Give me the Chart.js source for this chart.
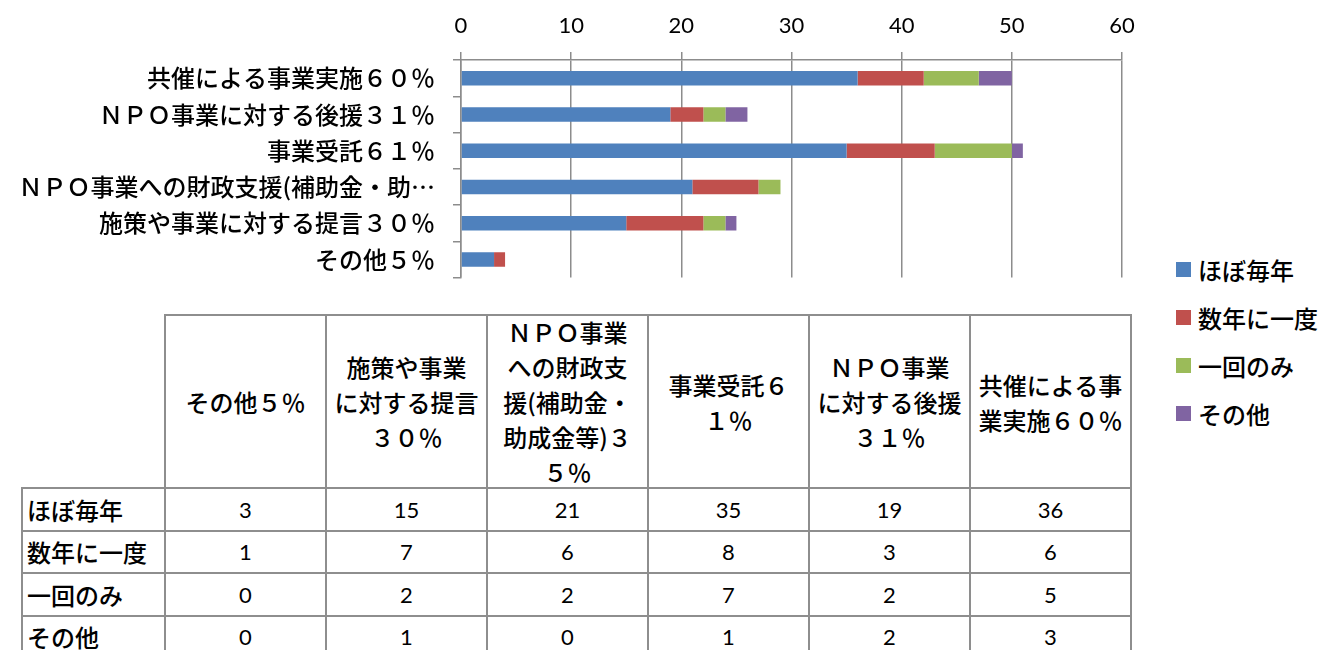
<!doctype html>
<html lang="ja">
<head>
<meta charset="utf-8">
<title>NPOとの協働の状況</title>
<script src="https://cdn.jsdelivr.net/npm/chart.js"></script>
<style>
  body { margin: 0; width: 1329px; height: 650px; overflow: hidden; background: #fff; position: relative;
         font-family: "Noto Sans CJK JP", sans-serif; font-weight: 500; color: #000; }
  #wrap { position: absolute; left: 0; top: 0; width: 1150px; height: 310px; }
  .lg { position: absolute; white-space: nowrap; font-size: 24px; line-height: 30px; }
  .lg i { position: absolute; left: 0; top: 7px; width: 15px; height: 15px; }
  .lg span { position: absolute; left: 22px; top: 0; }
  .cell { position: absolute; box-sizing: border-box; border: 2px solid #8e8e8e; display: flex;
          align-items: center; justify-content: center; text-align: center; white-space: nowrap; }
  .head { font-size: 24px; line-height: 35px; }
  .rowlab { font-size: 24px; justify-content: flex-start; padding-left: 4px; }
  .num { font-family: Lato, "Liberation Sans", sans-serif; font-weight: 400; font-size: 22px; }
</style>
</head>
<body>
<div id="wrap"><canvas id="chart"></canvas></div>
<div id="legend"></div>
<div id="table"></div>
<script>
  // categories in data-table order (chart shows them bottom-up)
  const categories = ['その他５％', '施策や事業に対する提言３０％', 'ＮＰＯ事業への財政支援(補助金・助成金等)３５％',
                      '事業受託６１％', 'ＮＰＯ事業に対する後援３１％', '共催による事業実施６０％'];
  const seriesNames = ['ほぼ毎年', '数年に一度', '一回のみ', 'その他'];
  const everyYear     = [3, 15, 21, 35, 19, 36];
  const everyFewYears = [1, 7, 6, 8, 3, 6];
  const onceOnly      = [0, 2, 2, 7, 2, 5];
  const otherFreq     = [0, 1, 0, 1, 2, 3];
  const colors = ['#4F81BD', '#C0504D', '#9BBB59', '#8064A2'];
  // how the table header wraps each category name
  const headerLines = [
    ['その他５％'],
    ['施策や事業', 'に対する提言', '３０％'],
    ['ＮＰＯ事業', 'への財政支', '援(補助金・', '助成金等)３', '５％'],
    ['事業受託６', '１％'],
    ['ＮＰＯ事業', 'に対する後援', '３１％'],
    ['共催による事', '業実施６０％']
  ];

  const series = [everyYear, everyFewYears, onceOnly, otherFreq];
  const gridColor = '#8c8c8c';

  new Chart(document.getElementById('chart'), {
    type: 'bar',
    data: {
      labels: categories,
      datasets: series.map((d, i) => ({
        label: seriesNames[i],
        data: d,
        backgroundColor: colors[i],
        barPercentage: 0.4,
        categoryPercentage: 1
      }))
    },
    options: {
      indexAxis: 'y',
      responsive: true,
      maintainAspectRatio: false,
      animation: false,
      layout: { padding: { left: 0, right: 28, top: 0, bottom: 12 } },
      plugins: { legend: { display: false }, tooltip: { enabled: false } },
      scales: {
        x: {
          position: 'top', stacked: true, min: 0, max: 60,
          ticks: { stepSize: 10, color: '#000', padding: 13, font: { family: 'Lato', size: 22 } },
          grid: { color: gridColor, lineWidth: 1.5, tickLength: 8 },
          border: { color: gridColor, width: 1.5 },
          afterFit(s) { s.height = 60; }
        },
        y: {
          stacked: true, reverse: true,
          ticks: {
            color: '#000', padding: 18, autoSkip: false,
            font: { family: '"Noto Sans CJK JP"', size: 24, weight: 500 },
            callback(v) {
              const l = this.getLabelForValue(v);
              return l.length > 17 ? l.slice(0, 17) + '…' : l;
            }
          },
          grid: { drawOnChartArea: false, color: gridColor, lineWidth: 1.5, tickLength: 8 },
          border: { color: gridColor, width: 1.5 },
          afterFit(s) { s.width = 461; }
        }
      }
    }
  });

  // legend
  const legend = document.getElementById('legend');
  seriesNames.forEach((name, i) => {
    const el = document.createElement('div');
    el.className = 'lg';
    el.style.left = '1176px';
    el.style.top = (255 + i * 48) + 'px';
    el.innerHTML = '<i style="background:' + colors[i] + '"></i><span>' + name + '</span>';
    legend.appendChild(el);
  });

  // data table
  const colX = [22, 165, 326, 487, 648, 809, 970, 1131];
  const rowY = [315, 488, 530.5, 573, 615.5, 658];
  const table = document.getElementById('table');
  function cell(x0, x1, y0, y1, cls, html) {
    const el = document.createElement('div');
    el.className = 'cell ' + cls;
    el.style.left = (x0 - 1) + 'px';
    el.style.top = (y0 - 1) + 'px';
    el.style.width = (x1 - x0 + 2) + 'px';
    el.style.height = (y1 - y0 + 2) + 'px';
    el.innerHTML = html;
    table.appendChild(el);
  }
  headerLines.forEach((lines, j) => {
    cell(colX[j + 1], colX[j + 2], rowY[0], rowY[1], 'head', lines.join('<br>'));
  });
  series.forEach((d, i) => {
    cell(colX[0], colX[1], rowY[i + 1], rowY[i + 2], 'rowlab', seriesNames[i]);
    d.forEach((v, j) => cell(colX[j + 1], colX[j + 2], rowY[i + 1], rowY[i + 2], 'num', v));
  });
</script>
</body>
</html>
